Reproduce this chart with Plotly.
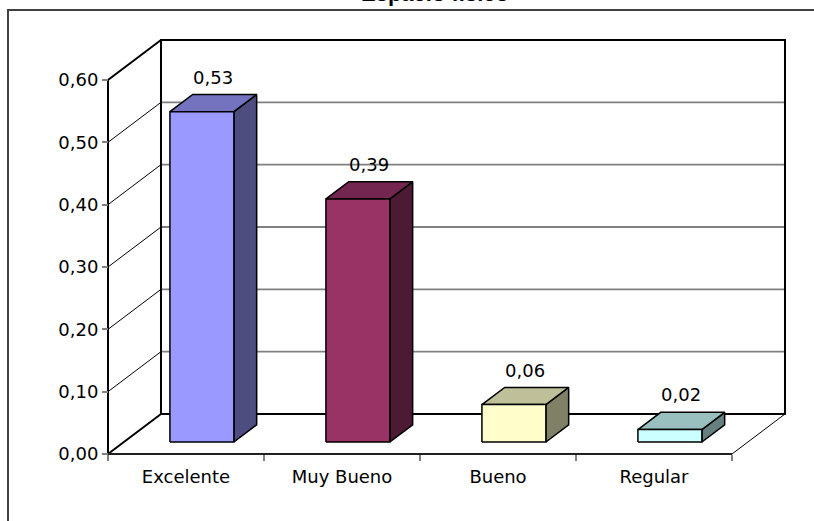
import plotly.graph_objects as go

# Chart data
categories = ["Excelente", "Muy Bueno", "Bueno", "Regular"]
values = [0.53, 0.39, 0.06, 0.02]
y_ticks = [0.0, 0.1, 0.2, 0.3, 0.4, 0.5, 0.6]
title_text = "Espacio físico"

# Bar colours: front, top, side
front_colors = ["#9999FF", "#993366", "#FFFFCC", "#CCFFFF"]
top_colors = ["#7373BF", "#732650", "#BFBF99", "#99BFBF"]
side_colors = ["#4D4D80", "#4D1A33", "#808066", "#668080"]

W, H = 814, 521
FONT = "DejaVu Sans, Verdana, sans-serif"
TITLE_FONT = "Liberation Sans, Arial, sans-serif"

# Axis geometry (category units on x, value units on y)
X0, X1 = -1.19231, 4.02564
Y0, Y1 = -0.10749, 0.72834
DX, DY = 0.3397, 0.06417      # depth of the 3-D box
D_FRONT, D_BACK = 0.30, 0.73   # bar depth range as fraction of box depth
BAR_W = 0.41
YMAX = y_ticks[-1]
XL, XR = -0.5, len(categories) - 0.5

fig = go.Figure()


def line(xs, ys, color="black", width=1.0):
    fig.add_trace(go.Scatter(x=xs, y=ys, mode="lines",
                             line=dict(color=color, width=width),
                             hoverinfo="skip", showlegend=False))


def poly(xs, ys, fill):
    fig.add_trace(go.Scatter(x=xs + [xs[0]], y=ys + [ys[0]], mode="lines",
                             fill="toself", fillcolor=fill,
                             line=dict(color="black", width=1.5),
                             hoverinfo="skip", showlegend=False))


# Walls and floor
for t in y_ticks[1:-1]:
    line([XL + DX, XR + DX], [t + DY, t + DY], color="#808080", width=1.8)
    line([XL, XL + DX], [t, t + DY], color="black", width=1)

line([XR, XR + DX], [0, DY], color="black", width=1)
line([XL + DX, XR + DX, XR + DX, XL + DX, XL + DX],
     [DY, DY, YMAX + DY, YMAX + DY, DY], color="black", width=2)
line([XL + DX, XL, XL, XL + DX], [YMAX + DY, YMAX, 0, DY], color="black", width=2)
line([XL, XR], [0, 0], color="#202020", width=2)

# 3-D bars
annotations = []
for i, v in enumerate(values):
    cx_f = i + D_FRONT * DX
    cx_b = i + D_BACK * DX
    yf = D_FRONT * DY
    yb = D_BACK * DY
    lf, rf = cx_f - BAR_W / 2, cx_f + BAR_W / 2
    lb, rb = cx_b - BAR_W / 2, cx_b + BAR_W / 2
    # side face
    poly([rf, rb, rb, rf], [yf, yb, yb + v, yf + v], side_colors[i])
    # top face
    poly([lf, rf, rb, lb], [yf + v, yf + v, yb + v, yb + v], top_colors[i])
    # front face
    poly([lf, rf, rf, lf], [yf, yf, yf + v, yf + v], front_colors[i])
    ym = (D_FRONT + D_BACK) / 2
    annotations.append(dict(
        x=i + ym * DX, y=v + ym * DY, xref="x", yref="y",
        text=f"{v:.2f}".replace(".", ","), showarrow=False,
        yanchor="middle", yshift=26,
        font=dict(family=FONT, size=18, color="black")))

# Hidden trace carrying the categories for the tick axis
fig.add_trace(go.Scatter(x=categories, y=values, xaxis="x2", yaxis="y2",
                         mode="markers", marker=dict(opacity=0),
                         hoverinfo="skip", showlegend=False))

# Title (sits at the very top edge)
annotations.append(dict(
    x=435 / W, y=1 + 6 / H, xref="paper", yref="paper",
    text=f"<b>{title_text}</b>", showarrow=False,
    xanchor="center", yanchor="middle",
    font=dict(family=TITLE_FONT, size=22, color="black")))

fig.update_layout(
    width=W, height=H,
    margin=dict(l=0, r=0, t=0, b=0),
    paper_bgcolor="white", plot_bgcolor="white",
    separators=", ",
    showlegend=False,
    xaxis=dict(range=[X0, X1], visible=False, fixedrange=True),
    yaxis=dict(range=[Y0, Y1], visible=False, fixedrange=True),
    xaxis2=dict(type="category", overlaying="x", anchor="free",
                position=(H - 454) / H, range=[X0, X1],
                categoryorder="array", categoryarray=categories,
                tickson="boundaries", ticks="outside", ticklen=6,
                tickcolor="#808080", tickwidth=1.5,
                showgrid=False, showline=False, zeroline=False,
                ticklabelstandoff=10,
                tickfont=dict(family=FONT, size=18, color="black")),
    yaxis2=dict(overlaying="y", anchor="free", position=108 / W,
                range=[Y0, Y1], tickvals=y_ticks, tickformat=".2f",
                ticks="outside", ticklen=6, tickcolor="#808080",
                tickwidth=1.5, showgrid=False, showline=False,
                zeroline=False,
                tickfont=dict(family=FONT, size=18, color="black")),
    annotations=annotations,
    shapes=[dict(type="rect", xref="paper", yref="paper",
                 x0=8 / W, x1=1.05, y0=-0.05, y1=1 - 10 / H,
                 line=dict(color="#404040", width=2),
                 fillcolor="rgba(0,0,0,0)", layer="below")],
)

fig.write_html("out.html")
